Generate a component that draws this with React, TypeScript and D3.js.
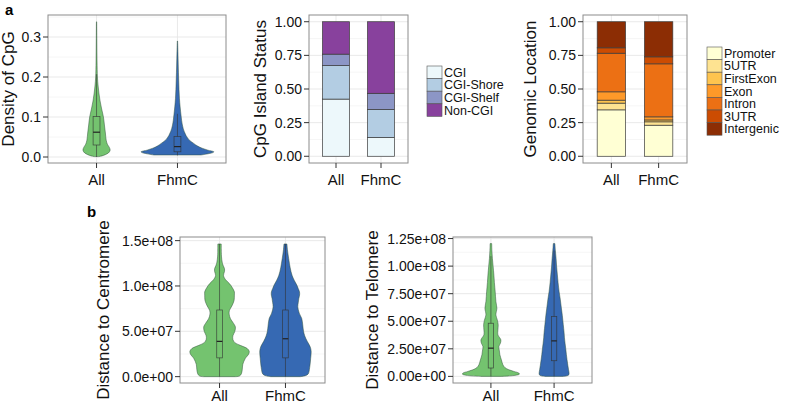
import React from 'react';
import * as d3 from 'd3';

// ---------- DATA ----------
const groups = ['All', 'FhmC'];

// violin profiles: [value, relative density]
const cpgAll: [number, number][] = [
  [0.001, 2], [0.004, 7], [0.01, 12], [0.017, 13.8], [0.024, 13], [0.032, 11], [0.042, 9.8], [0.06, 9],
  [0.08, 8], [0.1, 7], [0.12, 5.2], [0.14, 3.6], [0.16, 2.4], [0.18, 1.5], [0.2, 0.9], [0.24, 0.5],
  [0.29, 0.3], [0.338, 0.15],
];
const cpgFhmC: [number, number][] = [
  [0.005, 24], [0.008, 31], [0.011, 36], [0.013, 37], [0.017, 31], [0.022, 25], [0.028, 20], [0.034, 16.5],
  [0.045, 11], [0.063, 7], [0.08, 5], [0.105, 3.6], [0.147, 2], [0.19, 1.3], [0.23, 0.8], [0.26, 0.5],
  [0.29, 0.15],
];
// boxplot stats: [lowerWhisker, q1, median, q3, upperWhisker]
const cpgBoxAll = [0.0, 0.03, 0.062, 0.101, 0.207];
const cpgBoxFhmC = [0.004, 0.013, 0.026, 0.051, 0.108];

const cenAll: [number, number][] = [
  [0, 16], [0.006e8, 20], [0.03e8, 22], [0.08e8, 23], [0.134e8, 23.5], [0.2e8, 26], [0.25e8, 29.5],
  [0.28e8, 30], [0.31e8, 28], [0.345e8, 21], [0.375e8, 15.5], [0.41e8, 13.5], [0.45e8, 13.5],
  [0.5e8, 15.5], [0.55e8, 16], [0.59e8, 14], [0.64e8, 11], [0.69e8, 9.7], [0.73e8, 10], [0.78e8, 12.5],
  [0.84e8, 14.7], [0.9e8, 15], [0.935e8, 15], [0.98e8, 13], [1.026e8, 10], [1.07e8, 6], [1.117e8, 4],
  [1.16e8, 5], [1.19e8, 5], [1.23e8, 3.5], [1.262e8, 2.7], [1.32e8, 2], [1.371e8, 1.8], [1.463e8, 1.7],
];
const cenFhmC: [number, number][] = [
  [0, 15], [0.01e8, 20], [0.03e8, 23], [0.1e8, 24.5], [0.2e8, 25.5], [0.28e8, 26], [0.33e8, 25],
  [0.39e8, 22], [0.45e8, 19.5], [0.5e8, 18.3], [0.57e8, 17.5], [0.64e8, 16.5], [0.7e8, 14], [0.77e8, 12.5],
  [0.82e8, 13], [0.86e8, 13.5], [0.9e8, 14.3], [0.935e8, 14.2], [0.97e8, 13], [1.01e8, 11.5], [1.06e8, 9],
  [1.117e8, 6.7], [1.2e8, 4.8], [1.3e8, 3.3], [1.4e8, 2], [1.463e8, 1.5],
];
const cenBoxAll = [0, 0.207e8, 0.389e8, 0.735e8, 1.463e8];
const cenBoxFhmC = [0, 0.207e8, 0.418e8, 0.735e8, 1.463e8];

const telAll: [number, number][] = [
  [0, 10], [0.005e8, 20], [0.012e8, 26], [0.02e8, 28.5], [0.03e8, 28], [0.045e8, 23], [0.06e8, 18],
  [0.08e8, 14], [0.106e8, 12], [0.15e8, 10.5], [0.196e8, 9], [0.23e8, 8.5], [0.271e8, 8], [0.3e8, 9.5],
  [0.331e8, 10], [0.355e8, 8.5], [0.376e8, 7], [0.42e8, 7], [0.467e8, 7.3], [0.51e8, 6.5], [0.557e8, 5],
  [0.59e8, 5.5], [0.617e8, 6], [0.68e8, 5], [0.767e8, 4.3], [0.85e8, 3.5], [0.918e8, 3], [1.0e8, 2.2],
  [1.069e8, 1.5], [1.14e8, 1], [1.204e8, 0.8],
];
const telFhmC: [number, number][] = [
  [0, 9], [0.005e8, 13], [0.015e8, 14.8], [0.03e8, 15], [0.06e8, 14.5], [0.1e8, 13.8], [0.15e8, 13],
  [0.2e8, 12.3], [0.25e8, 11.7], [0.3e8, 11], [0.35e8, 10.4], [0.4e8, 10], [0.47e8, 9.2], [0.55e8, 8.3],
  [0.62e8, 7.3], [0.7e8, 6.2], [0.77e8, 5], [0.85e8, 4], [0.92e8, 3.3], [1.0e8, 2.5], [1.07e8, 2],
  [1.14e8, 1.3], [1.204e8, 0.8],
];
const telBoxAll = [0, 0.076e8, 0.256e8, 0.482e8, 1.09e8];
const telBoxFhmC = [0, 0.142e8, 0.322e8, 0.542e8, 1.142e8];

const cgiLevels = ['CGI', 'CGI-Shore', 'CGI-Shelf', 'Non-CGI'];
const cgiAll = [0.425, 0.249, 0.085, 0.241];
const cgiFhmC = [0.14, 0.208, 0.12, 0.532];
const cgiColors = ['#edf8fb', '#b3cde3', '#8c96c6', '#88419d'];

const locLevels = ['Promoter', '5UTR', 'FirstExon', 'Exon', 'Intron', '3UTR', 'Intergenic'];
const locAll = [0.345, 0.05, 0.022, 0.062, 0.287, 0.04, 0.194];
const locFhmC = [0.231, 0.025, 0.014, 0.023, 0.394, 0.052, 0.261];
const locColors = ['#ffffd4', '#fee391', '#fec44f', '#fe9929', '#ec7014', '#cc4c02', '#8c2d04'];

const cpgTicks = [0, 0.1, 0.2, 0.3];
const propTicks = [0, 0.25, 0.5, 0.75, 1];
const cenTicks = [0, 5e7, 1e8, 1.5e8];
const telTicks = [0, 2.5e7, 5e7, 7.5e7, 1e8, 1.25e8];

const violinFill = ['#74c36f', '#3669b3'];

// ---------- HELPERS ----------
const FONT = 'Liberation Sans, Arial, Helvetica, sans-serif';
const TICK_FS = 14;
const TITLE_FS = 17;

function sciFmt(digits: number) {
  return (v: number) => {
    if (v === 0) return (0).toFixed(digits) + 'e+00';
    const e = Math.floor(Math.log10(Math.abs(v)));
    const m = v / Math.pow(10, e);
    return m.toFixed(digits) + 'e+' + String(e).padStart(2, '0');
  };
}

type Box = { left: number; right: number; top: number; bottom: number };

function Frame({ box, y, ticks, fmt, title, titleX, labelDy, children }: {
  box: Box; y: d3.ScaleLinear<number, number>; ticks: number[]; fmt: (v: number) => string;
  title: string; titleX: number; labelDy: number; children: React.ReactNode;
}) {
  const x = d3.scaleLinear().domain([0.4, 2.6]).range([box.left, box.right]);
  const minor: number[] = [];
  for (let i = 0; i < ticks.length - 1; i++) minor.push((ticks[i] + ticks[i + 1]) / 2);
  const step = ticks[1] - ticks[0];
  const [d0, d1] = y.domain();
  if (ticks[ticks.length - 1] + step / 2 <= d1) minor.push(ticks[ticks.length - 1] + step / 2);
  if (ticks[0] - step / 2 >= d0) minor.push(ticks[0] - step / 2);
  const cy = (box.top + box.bottom) / 2;
  return (
    <g>
      <rect x={box.left} y={box.top} width={box.right - box.left} height={box.bottom - box.top} fill="#fff" />
      {minor.map((t, i) => (
        <line key={'mi' + i} x1={box.left} x2={box.right} y1={y(t)} y2={y(t)} stroke="#f4f4f4" strokeWidth={0.8} />
      ))}
      {ticks.map((t, i) => (
        <line key={'ma' + i} x1={box.left} x2={box.right} y1={y(t)} y2={y(t)} stroke="#e3e3e3" strokeWidth={0.8} />
      ))}
      {[1, 2].map((c) => (
        <line key={'vx' + c} x1={x(c)} x2={x(c)} y1={box.top} y2={box.bottom} stroke="#e3e3e3" strokeWidth={0.8} />
      ))}
      {children}
      <rect x={box.left} y={box.top} width={box.right - box.left} height={box.bottom - box.top} fill="none" stroke="#8c8c8c" strokeWidth={1} />
      {ticks.map((t, i) => (
        <g key={'yt' + i}>
          <line x1={box.left - 5} x2={box.left} y1={y(t)} y2={y(t)} stroke="#333" strokeWidth={1} />
          <text x={box.left - 7} y={y(t) + 5} textAnchor="end" fontSize={TICK_FS} fontFamily={FONT} fill="#111">{fmt(t)}</text>
        </g>
      ))}
      {groups.map((g, i) => (
        <g key={'xt' + g}>
          <line x1={x(i + 1)} x2={x(i + 1)} y1={box.bottom} y2={box.bottom + 5} stroke="#333" strokeWidth={1} />
          <text x={x(i + 1)} y={box.bottom + labelDy} textAnchor="middle" fontSize={TICK_FS + 1} fontFamily={FONT} fill="#111">{g}</text>
        </g>
      ))}
      <text transform={`translate(${titleX},${cy}) rotate(-90)`} textAnchor="middle" fontSize={TITLE_FS} fontFamily={FONT} fill="#111">{title}</text>
    </g>
  );
}

function ViolinPanel({ box, domain, ticks, fmt, title, titleX, labelDy, profiles, boxes }: {
  box: Box; domain: [number, number]; ticks: number[]; fmt: (v: number) => string; title: string; titleX: number;
  labelDy: number; profiles: [number, number][][]; boxes: number[][];
}) {
  const y = d3.scaleLinear().domain(domain).range([box.bottom, box.top]);
  const x = d3.scaleLinear().domain([0.4, 2.6]).range([box.left, box.right]);
  const unit = x(2) - x(1);
  const maxD = d3.max(profiles.flat(), (d) => d[1]) as number;
  const w = d3.scaleLinear().domain([0, maxD]).range([0, 0.45 * unit]);
  const boxW = 0.085 * unit;
  return (
    <Frame box={box} y={y} ticks={ticks} fmt={fmt} title={title} titleX={titleX} labelDy={labelDy}>
      {profiles.map((p, i) => {
        const cx = x(i + 1);
        const area = d3.area<[number, number]>()
          .y((d) => y(d[0]))
          .x0((d) => cx - w(d[1]))
          .x1((d) => cx + w(d[1]))
          .curve(d3.curveCatmullRom.alpha(0.5));
        const b = boxes[i];
        return (
          <g key={i}>
            <path d={area(p) || ''} fill={violinFill[i]} stroke="#2f4f3a" strokeOpacity={0.55} strokeWidth={0.9} />
            <line x1={cx} x2={cx} y1={y(b[0])} y2={y(b[4])} stroke="#333" strokeOpacity={0.85} strokeWidth={0.7} />
            <rect x={cx - boxW / 2} y={y(b[3])} width={boxW} height={y(b[1]) - y(b[3])} fill={violinFill[i]} stroke="#333" strokeOpacity={0.85} strokeWidth={0.7} />
            <line x1={cx - boxW / 2} x2={cx + boxW / 2} y1={y(b[2])} y2={y(b[2])} stroke="#222" strokeWidth={1.2} />
          </g>
        );
      })}
    </Frame>
  );
}

function StackPanel({ box, title, titleX, series, colors }: {
  box: Box; title: string; titleX: number; series: number[][]; colors: string[];
}) {
  const y = d3.scaleLinear().domain([-0.05, 1.05]).range([box.bottom, box.top]);
  const x = d3.scaleLinear().domain([0.4, 2.6]).range([box.left, box.right]);
  const bw = 0.6 * (x(2) - x(1));
  return (
    <Frame box={box} y={y} ticks={propTicks} fmt={d3.format('.2f')} title={title} titleX={titleX} labelDy={22}>
      {series.map((vals, i) => {
        const cx = x(i + 1);
        const cum = d3.cumsum(vals);
        return (
          <g key={i}>
            {vals.map((v, k) => {
              const lo = k === 0 ? 0 : cum[k - 1];
              const hi = cum[k];
              return (
                <rect key={k} x={cx - bw / 2} y={y(hi)} width={bw} height={y(lo) - y(hi)} fill={colors[k]} stroke="#3a3a3a" strokeWidth={0.7} />
              );
            })}
          </g>
        );
      })}
    </Frame>
  );
}

function Legend({ x, y, rowH, fs, labels, colors }: { x: number; y: number; rowH: number; fs: number; labels: string[]; colors: string[] }) {
  return (
    <g>
      {labels.map((l, i) => (
        <g key={l}>
          <rect x={x} y={y + i * rowH} width={15} height={rowH} fill={colors[i]} stroke="#555" strokeWidth={0.6} />
          <text x={x + 17} y={y + i * rowH + rowH / 2 + fs * 0.36} fontSize={fs} fontFamily={FONT} fill="#111">{l}</text>
        </g>
      ))}
    </g>
  );
}

export default function App() {
  return (
    <svg width={785} height={405} style={{ position: 'absolute', left: 0, top: 0, background: '#fff' }}>
      <rect width={785} height={405} fill="#fff" />
      <text x={5} y={15} fontSize={15} fontWeight="bold" fontFamily={FONT}>a</text>
      <text x={87} y={217} fontSize={15} fontWeight="bold" fontFamily={FONT}>b</text>

      <ViolinPanel box={{ left: 48, right: 226, top: 15, bottom: 163 }} domain={[-0.015, 0.355]}
        ticks={cpgTicks} fmt={d3.format('.1f')} title="Density of CpG" titleX={14} labelDy={22}
        profiles={[cpgAll, cpgFhmC]} boxes={[cpgBoxAll, cpgBoxFhmC]} />

      <StackPanel box={{ left: 309, right: 408, top: 15, bottom: 163 }} title="CpG Island Status" titleX={266}
        series={[cgiAll, cgiFhmC]} colors={cgiColors} />
      <Legend x={427} y={66} rowH={12.6} fs={12.5} labels={cgiLevels} colors={cgiColors} />

      <StackPanel box={{ left: 583, right: 687, top: 15, bottom: 163 }} title="Genomic Location" titleX={536}
        series={[locAll, locFhmC]} colors={locColors} />
      <Legend x={707} y={47} rowH={12.6} fs={12.5} labels={locLevels} colors={locColors} />

      <ViolinPanel box={{ left: 180, right: 325, top: 237, bottom: 383 }} domain={[-7e6, 1.54e8]}
        ticks={cenTicks} fmt={sciFmt(1)} title="Distance to Centromere" titleX={109} labelDy={18}
        profiles={[cenAll, cenFhmC]} boxes={[cenBoxAll, cenBoxFhmC]} />

      <ViolinPanel box={{ left: 453, right: 592, top: 237, bottom: 383 }} domain={[-6e6, 1.264e8]}
        ticks={telTicks} fmt={sciFmt(2)} title="Distance to Telomere" titleX={378} labelDy={18}
        profiles={[telAll, telFhmC]} boxes={[telBoxAll, telBoxFhmC]} />
    </svg>
  );
}
